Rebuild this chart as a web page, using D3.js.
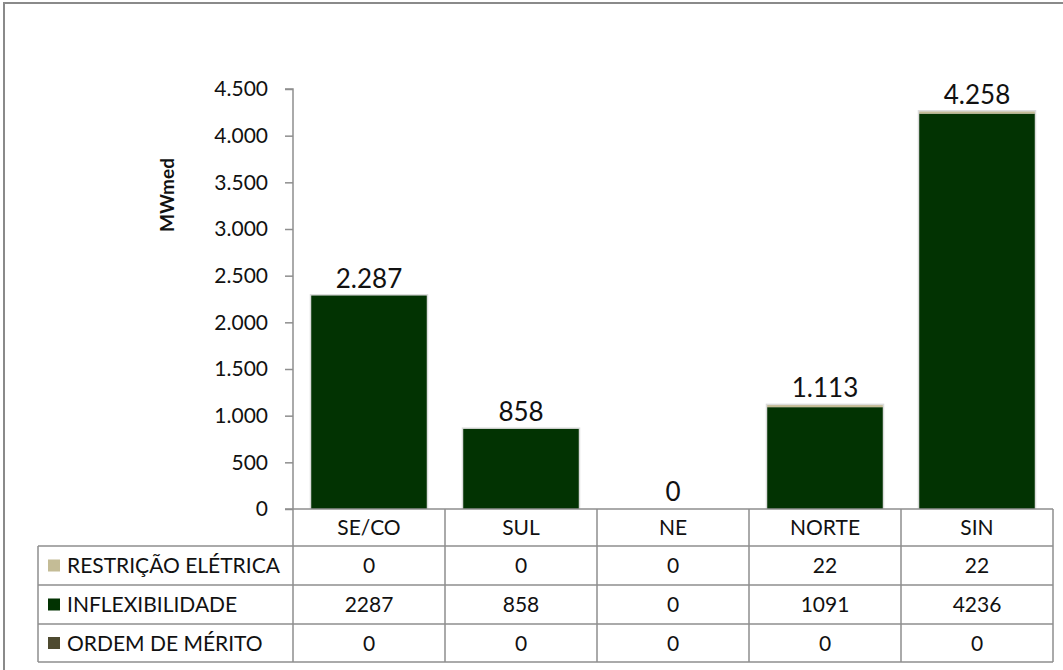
<!DOCTYPE html>
<html>
<head>
<meta charset="utf-8">
<script src="https://cdn.jsdelivr.net/npm/d3@7"></script>
<style>
  body { margin: 0; background: #fff; }
  svg { display: block; font-family: Lato, "Open Sans", sans-serif; }
</style>
</head>
<body>
<div id="chart"></div>
<script>
const regions = ["SE/CO", "SUL", "NE", "NORTE", "SIN"];
const seriesNames = ["RESTRIÇÃO ELÉTRICA", "INFLEXIBILIDADE", "ORDEM DE MÉRITO"];
const restricao = [0, 0, 0, 22, 22];
const inflex = [2287, 858, 0, 1091, 4236];
const ordem = [0, 0, 0, 0, 0];
const yTicks = [0, 500, 1000, 1500, 2000, 2500, 3000, 3500, 4000, 4500];

const colors = {
    "RESTRIÇÃO ELÉTRICA": "#c4bc96",
    "INFLEXIBILIDADE": "#023302",
    "ORDEM DE MÉRITO": "#4e4a30"
};
const values = {
    "RESTRIÇÃO ELÉTRICA": restricao,
    "INFLEXIBILIDADE": inflex,
    "ORDEM DE MÉRITO": ordem
};

const width = 1063, height = 670;
const plotLeft = 293, plotRight = 1053, plotTop = 89, plotBottom = 509;
const rowH = [37, 39, 39, 38];
const legendLeft = 38;
const gridColor = "#8e8e8e";
const tableFont = 21;

const pt = d3.formatLocale({decimal: ",", thousands: ".", grouping: [3], currency: ["R$", ""]});
const fmt = pt.format(",");
const total = d => seriesNames.reduce((a, s) => a + d[s], 0);

const svg = d3.select("#chart").append("svg")
    .attr("width", width)
    .attr("height", height);

// outer frame
svg.append("rect")
    .attr("x", 4).attr("y", 3)
    .attr("width", width + 20).attr("height", height + 20)
    .attr("fill", "none")
    .attr("stroke", "#8a8a8a")
    .attr("stroke-width", 2);

const x = d3.scaleBand().domain(regions).range([plotLeft, plotRight]).paddingInner(0.24).paddingOuter(0.12);
const xCol = d3.scaleBand().domain(regions).range([plotLeft, plotRight]);
const y = d3.scaleLinear().domain([0, 4500]).range([plotBottom, plotTop]);

const table = regions.map((r, i) => {
    const row = {region: r};
    seriesNames.forEach(s => row[s] = values[s][i]);
    return row;
});
// bottom series first
const layers = d3.stack().keys(seriesNames.slice().reverse())(table);

// light shadow round the bars
svg.append("g").selectAll("rect")
    .data(table.filter(d => total(d) > 0))
    .join("rect")
    .attr("x", d => x(d.region) - 1.5)
    .attr("width", x.bandwidth() + 3)
    .attr("y", d => y(total(d)) - 1.5)
    .attr("height", d => plotBottom - y(total(d)) + 1.5)
    .attr("fill", "#dcdcdc");

svg.append("g").selectAll("g")
    .data(layers)
    .join("g")
    .attr("fill", d => colors[d.key])
    .selectAll("rect")
    .data(d => d)
    .join("rect")
    .attr("x", d => x(d.data.region))
    .attr("width", x.bandwidth())
    .attr("y", d => y(d[1]))
    .attr("height", d => y(d[0]) - y(d[1]));

// totals above the bars
svg.append("g").selectAll("text")
    .data(table)
    .join("text")
    .attr("x", d => x(d.region) + x.bandwidth() / 2)
    .attr("y", d => y(total(d)) - 8)
    .attr("text-anchor", "middle")
    .attr("font-size", 26)
    .attr("fill", "#111")
    .text(d => fmt(total(d)));

// y axis
const yAxis = d3.axisLeft(y).tickValues(yTicks).tickSize(8).tickPadding(17).tickFormat(fmt);
const ga = svg.append("g")
    .attr("transform", `translate(${plotLeft},0)`)
    .call(yAxis);
ga.select(".domain").attr("stroke", gridColor).attr("stroke-width", 1.5).attr("d", `M-8,${plotTop}H0V${plotBottom}`);
ga.selectAll(".tick line").attr("stroke", gridColor).attr("stroke-width", 1.5);
ga.selectAll(".tick text").attr("font-size", 21).attr("fill", "#111").attr("font-family", "Lato, sans-serif");

svg.append("text")
    .attr("transform", `translate(174,195) rotate(-90)`)
    .attr("text-anchor", "middle")
    .attr("font-size", 19)
    .attr("font-weight", "bold")
    .attr("fill", "#111")
    .text("MWmed");

// data table
const rowY = [plotBottom];
rowH.forEach(h => rowY.push(rowY[rowY.length - 1] + h));
const tableBottom = rowY[rowY.length - 1];
const grid = svg.append("g").attr("stroke", gridColor).attr("stroke-width", 1.5);

grid.append("line").attr("x1", plotLeft - 8).attr("x2", plotRight).attr("y1", rowY[0]).attr("y2", rowY[0]);
rowY.slice(1).forEach(yy => {
    grid.append("line").attr("x1", legendLeft).attr("x2", plotRight).attr("y1", yy).attr("y2", yy);
});
grid.append("line").attr("x1", legendLeft).attr("x2", legendLeft).attr("y1", rowY[1]).attr("y2", tableBottom);
regions.forEach(r => {
    grid.append("line").attr("x1", xCol(r)).attr("x2", xCol(r)).attr("y1", rowY[0]).attr("y2", tableBottom);
});
grid.append("line").attr("x1", plotRight).attr("x2", plotRight).attr("y1", rowY[0]).attr("y2", tableBottom);

// header row
svg.append("g").selectAll("text")
    .data(regions)
    .join("text")
    .attr("x", d => xCol(d) + xCol.bandwidth() / 2)
    .attr("y", (rowY[0] + rowY[1]) / 2)
    .attr("dy", "0.36em")
    .attr("text-anchor", "middle")
    .attr("font-size", tableFont)
    .attr("fill", "#111")
    .text(d => d);

seriesNames.forEach((s, si) => {
    const cy = (rowY[si + 1] + rowY[si + 2]) / 2;
    svg.append("rect")
        .attr("x", 48).attr("y", cy - 6)
        .attr("width", 12).attr("height", 12)
        .attr("fill", colors[s]);
    svg.append("text")
        .attr("x", 67).attr("y", cy)
        .attr("dy", "0.36em")
        .attr("font-size", tableFont)
        .attr("fill", "#111")
        .text(s);
    svg.append("g").selectAll("text")
        .data(values[s])
        .join("text")
        .attr("x", (d, i) => xCol(regions[i]) + xCol.bandwidth() / 2)
        .attr("y", cy)
        .attr("dy", "0.36em")
        .attr("text-anchor", "middle")
        .attr("font-size", tableFont)
        .attr("fill", "#111")
        .text(d => d);
});
</script>
</body>
</html>
